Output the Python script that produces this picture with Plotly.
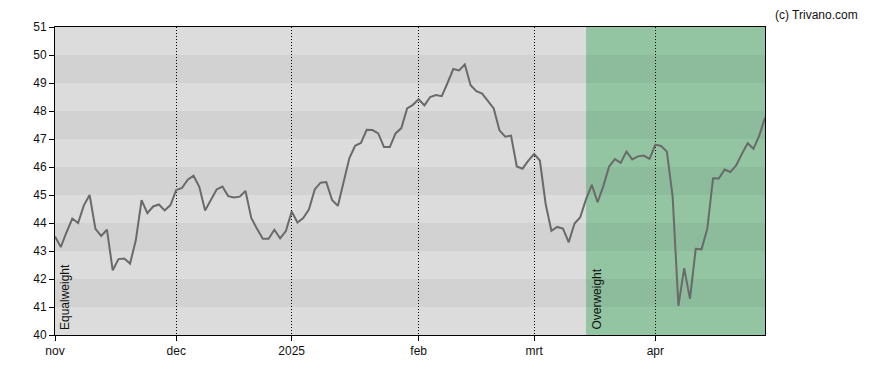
import pandas as pd
import plotly.graph_objects as go

# trading days (Euronext calendar) Nov 2024 - Apr 2025
holidays = ["2024-12-25", "2024-12-26", "2025-01-01", "2025-04-18", "2025-04-21"]
days = pd.bdate_range("2024-11-01", "2025-04-30")
dates = [d.strftime("%Y-%m-%d") for d in days if d.strftime("%Y-%m-%d") not in holidays]

values = [
    43.52, 43.14, 43.67, 44.16, 44.00, 44.63, 45.00, 43.79, 43.54, 43.76,
    42.31, 42.71, 42.73, 42.55, 43.38, 44.82, 44.35, 44.59, 44.66, 44.45,
    44.64, 45.18, 45.25, 45.55, 45.69, 45.29, 44.45, 44.82, 45.20, 45.30,
    44.96, 44.91, 44.94, 45.14, 44.18, 43.79, 43.44, 43.44, 43.76, 43.45,
    43.71, 44.41, 44.02, 44.18, 44.49, 45.20, 45.44, 45.46, 44.82, 44.61,
    45.47, 46.32, 46.76, 46.86, 47.33, 47.32, 47.20, 46.71, 46.71, 47.20,
    47.39, 48.09, 48.22, 48.42, 48.20, 48.50, 48.57, 48.53, 49.00, 49.50,
    49.45, 49.66, 48.92, 48.71, 48.62, 48.34, 48.09, 47.31, 47.08, 47.12,
    46.02, 45.94, 46.23, 46.46, 46.23, 44.68, 43.72, 43.86, 43.80, 43.31,
    43.98, 44.21, 44.85, 45.36, 44.74, 45.32, 46.02, 46.28, 46.15, 46.55,
    46.27, 46.38, 46.41, 46.29, 46.80, 46.75, 46.55, 44.94, 41.04, 42.39,
    41.29, 43.08, 43.06, 43.79, 45.60, 45.59, 45.91, 45.82, 46.06, 46.47,
    46.85, 46.65, 47.12, 47.76,
]

tick_dates = ["2024-11-01", "2024-12-02", "2025-01-02", "2025-02-03", "2025-03-03", "2025-04-01"]
tick_labels = ["nov", "dec", "2025", "feb", "mrt", "apr"]
y_ticks = list(range(40, 52))
dark_bands = [41, 43, 45, 47, 49]

advice_start = "2025-03-14"
advice_labels = ["Equalweight", "Overweight"]

x_idx = list(range(len(dates)))
tick_idx = [dates.index(d) for d in tick_dates]
adv_idx = dates.index(advice_start)
n_last = len(dates) - 1

font = "Liberation Sans, Arial, sans-serif"

fig = go.Figure()
fig.add_trace(go.Scatter(
    x=x_idx, y=values, mode="lines",
    line=dict(color="#6a6a6a", width=2),
    hoverinfo="skip", showlegend=False,
))

shapes = [
    dict(type="rect", xref="x", yref="paper", x0=adv_idx, x1=n_last, y0=0, y1=1,
         fillcolor="#93c5a2", line=dict(width=0), layer="below"),
]
for b in dark_bands:
    shapes.append(dict(type="rect", xref="paper", yref="y", x0=0, x1=1, y0=b, y1=b + 1,
                       fillcolor="rgba(0,0,0,0.045)", line=dict(width=0), layer="below"))

annotations = [
    dict(x=0, y=40, xref="x", yref="y", text=advice_labels[0], textangle=-90,
         showarrow=False, xanchor="left", yanchor="bottom", xshift=1, yshift=3,
         font=dict(family=font, size=12, color="#111")),
    dict(x=adv_idx, y=40, xref="x", yref="y", text=advice_labels[1], textangle=-90,
         showarrow=False, xanchor="left", yanchor="bottom", xshift=1, yshift=3,
         font=dict(family=font, size=12, color="#111")),
    dict(x=1.0108, y=1.038, xref="paper", yref="paper", text="(c) Trivano.com",
         showarrow=False, xanchor="left", yanchor="middle",
         font=dict(family=font, size=12, color="#111")),
]

fig.update_layout(
    width=880, height=362,
    margin=dict(l=47, r=123, t=12, b=35),
    paper_bgcolor="white", plot_bgcolor="#dcdcdc",
    font=dict(family=font, size=12, color="#111"),
    shapes=shapes, annotations=annotations,
    showlegend=False,
    xaxis=dict(
        range=[0, n_last], tickmode="array", tickvals=tick_idx, ticktext=tick_labels,
        showgrid=True, gridcolor="black", gridwidth=1, griddash="1px,2px",
        showline=True, linecolor="black", linewidth=1, mirror=True,
        ticks="outside", ticklen=5, tickcolor="black", zeroline=False,
        tickfont=dict(size=12),
    ),
    yaxis=dict(
        range=[40, 51], tickmode="array", tickvals=y_ticks,
        showgrid=False, showline=True, linecolor="black", linewidth=1, mirror=True,
        ticks="outside", ticklen=5, tickcolor="black", zeroline=False,
        tickfont=dict(size=12),
    ),
)

fig.write_html("out.html")
